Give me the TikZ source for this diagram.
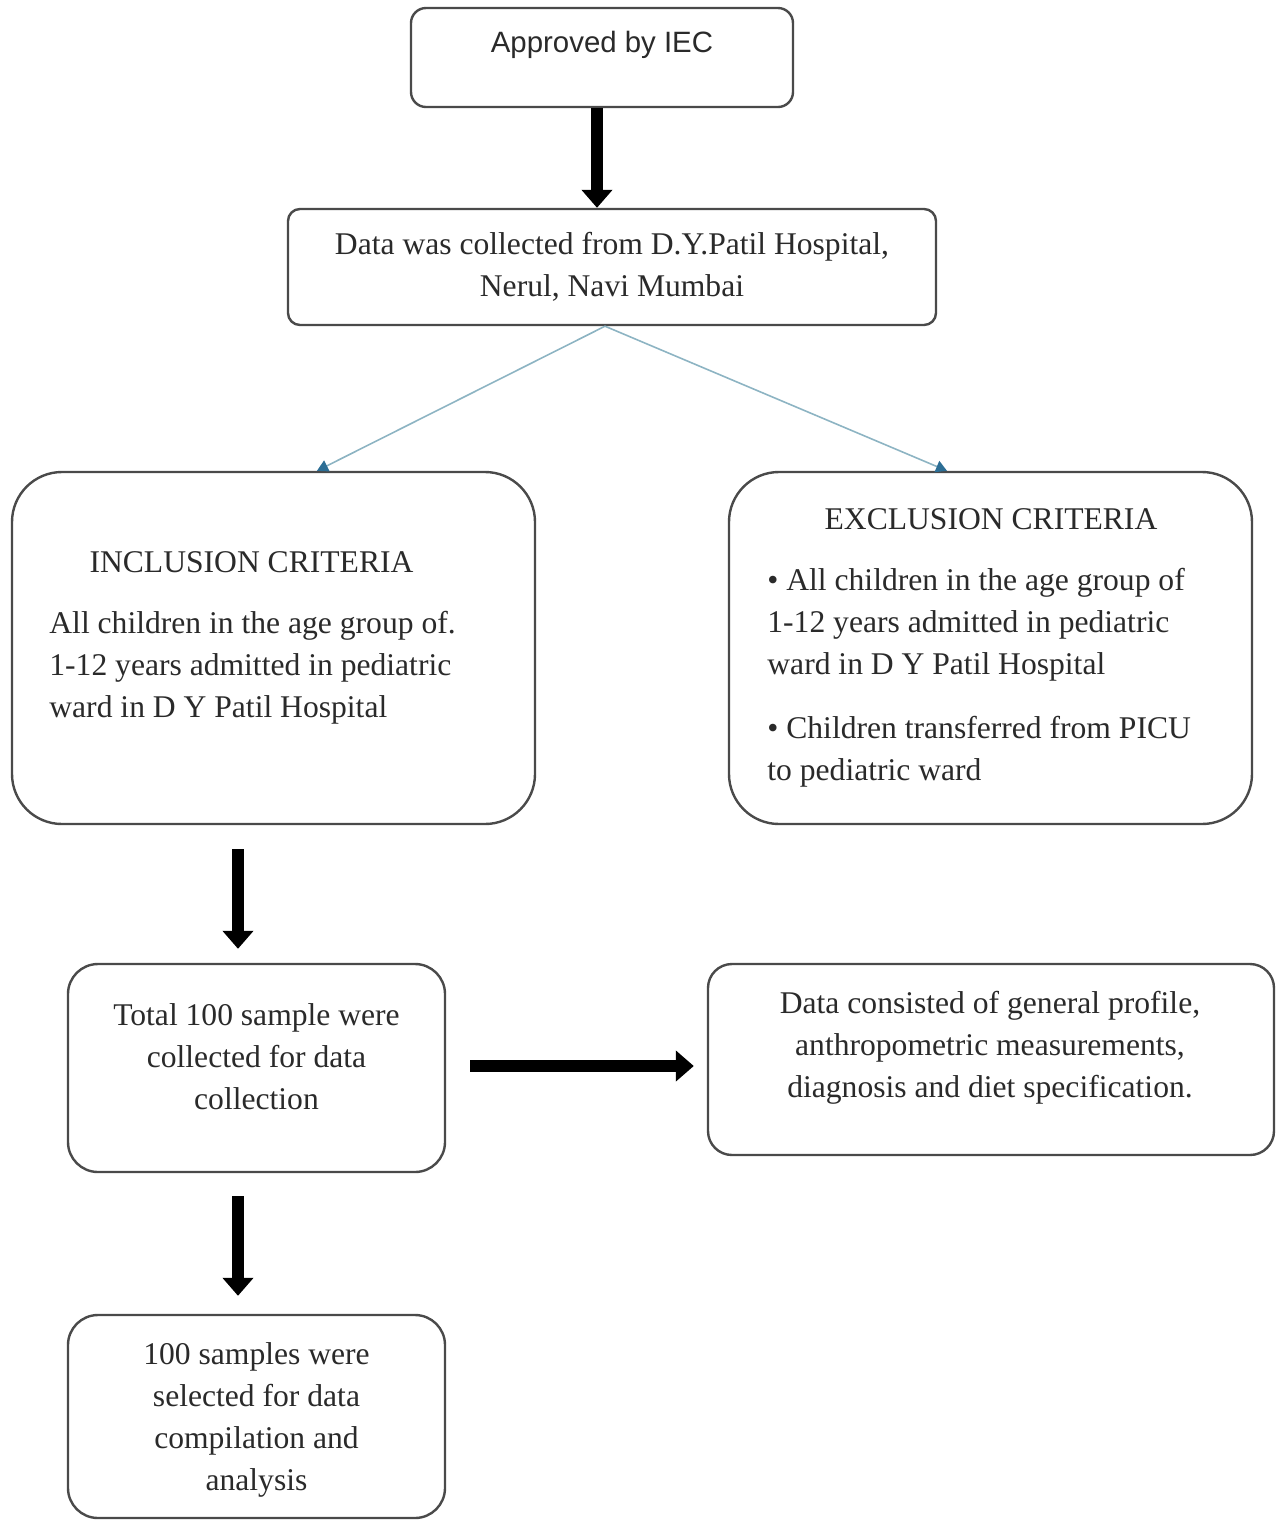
\documentclass[tikz,border=0pt]{standalone}
\usepackage{fontspec}
\setmainfont{Liberation Serif}
\newfontfamily\iecfont{Liberation Sans}
\usetikzlibrary{arrows.meta}
\definecolor{boxline}{HTML}{4A4A4A}
\definecolor{txt}{HTML}{2A2A2A}
\definecolor{blueline}{HTML}{8DB4C3}
\definecolor{bluehead}{HTML}{2C6E95}
\tikzset{
  box/.style={draw=boxline, line width=1.2pt, fill=white, inner sep=0pt},
  txtnode/.style={inner sep=0pt, text=txt, font=\fontsize{15.8}{21}\selectfont},
  bigarrow/.style={line width=6pt, -{Triangle[width=15pt,length=9pt]}, black},
  thinarrow/.style={line width=0.8pt, draw=blueline, -{Triangle[width=6pt,length=5.5pt,color=bluehead]}}
}
\begin{document}
\begin{tikzpicture}[x=0.5pt,y=-0.5pt]
\useasboundingbox (0,0) rectangle (1277,1522);
% boxes
\node[box, rounded corners=7.5pt, minimum width=191pt, minimum height=49.5pt] (iec) at (602,57.5) {};
\node[box, rounded corners=6pt, minimum width=324pt, minimum height=58pt] (src) at (612,267) {};
\node[box, rounded corners=25pt, minimum width=261.5pt, minimum height=176pt] (incl) at (273.5,648) {};
\node[box, rounded corners=25pt, minimum width=261.5pt, minimum height=176pt] (excl) at (990.5,648) {};
\node[box, rounded corners=15pt, minimum width=188.5pt, minimum height=104pt] (total) at (256.5,1068) {};
\node[box, rounded corners=12pt, minimum width=283pt, minimum height=95.5pt] (data) at (991,1059.5) {};
\node[box, rounded corners=15pt, minimum width=188.5pt, minimum height=101.5pt] (final) at (256.5,1416.5) {};
% texts
\node[txtnode, font=\iecfont\fontsize{14.7}{21}\selectfont, text=txt] (iect) at (602,45) {Approved by IEC};
\node[txtnode, align=center] (srct) at (612,266.5) {Data was collected from D.Y.Patil Hospital,\\Nerul, Navi Mumbai};
\node[txtnode] (inclh) at (251.5,562) {INCLUSION CRITERIA};
\node[txtnode, align=left, anchor=west] (inclt) at (49,668) {All children in the age group of.\\1-12 years admitted in pediatric\\ward in D Y Patil Hospital};
\node[txtnode] (exclh) at (991,519) {EXCLUSION CRITERIA};
\node[txtnode, align=left, anchor=west] (exclt1) at (767,625) {\textbullet\ All children in the age group of\\1-12 years admitted in pediatric\\ward in D Y Patil Hospital};
\node[txtnode, align=left, anchor=west] (exclt2) at (767,751.5) {\textbullet\ Children transferred from PICU\\to pediatric ward};
\node[txtnode, align=center] (totalt) at (256.5,1056.5) {Total 100 sample were\\collected for data\\collection};
\node[txtnode, align=center] (datat) at (990,1047.5) {Data consisted of general profile,\\anthropometric measurements,\\diagnosis and diet specification.};
\node[txtnode, align=center] (finalt) at (256.5,1420) {100 samples were\\selected for data\\compilation and\\analysis};
% connectors
\coordinate (hstart) at ([yshift=1pt]total.east);
\draw[bigarrow] ([xshift=-2.5pt]iec.south) -- ([xshift=-7.5pt]src.north);
\draw[thinarrow] ([xshift=-3.5pt]src.south) -- ([xshift=21.75pt]incl.north);
\draw[thinarrow] ([xshift=-3.5pt]src.south) -- ([xshift=-21.75pt]excl.north);
\draw[bigarrow, shorten <=12pt, shorten >=7pt] ([xshift=-9.25pt]total.north |- incl.south) -- ([xshift=-9.25pt]total.north);
\draw[bigarrow, shorten <=11.5pt, shorten >=9pt] ([xshift=-9.25pt]total.south) -- ([xshift=-9.25pt]final.north);
\draw[bigarrow, shorten <=12pt, shorten >=6.5pt] (hstart) -- (data.west |- hstart);
\end{tikzpicture}
\end{document}
